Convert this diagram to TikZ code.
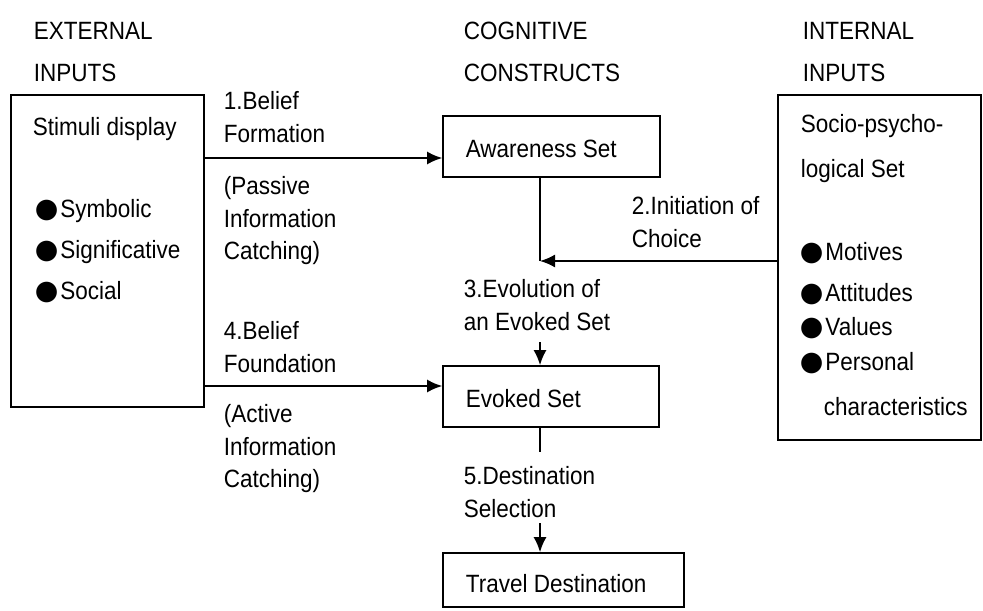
\documentclass[tikz,border=0pt]{standalone}
\usepackage{fontspec}
\setmainfont{Liberation Sans}[FakeStretch=0.9]
\newfontfamily\symfont{DejaVu Sans}
\usetikzlibrary{arrows.meta,fit}
\newcommand{\blt}{{\symfont\fontsize{13.5}{13.5}\selectfont ●}\hspace{1pt}}
\begin{document}
\begin{tikzpicture}[x=0.5pt, y=-0.5pt, line width=0.85pt,
		>={Latex[length=7.5pt,width=6.5pt]},
		box/.style={draw, inner sep=0pt},
		lbl/.style={inner sep=0pt, anchor=north west, align=left, font=\fontsize{12.5}{16.25}\selectfont},
		head/.style={lbl, font=\fontsize{12.5}{21}\selectfont}]
	\useasboundingbox (0,0) rectangle (983,610);
	% column headers
	\node[head] (hext) at (33,21) {EXTERNAL\\INPUTS};
	\node[head] (hcog) at (463,21) {COGNITIVE\\CONSTRUCTS};
	\node[head] (hint) at (802,21) {INTERNAL\\INPUTS};
	% boxes
	\node[box, fit={(11,95) (204,407)}] (stimuli) {};
	\node[box, fit={(443,116) (660,177)}] (aware) {};
	\node[box, fit={(443,366) (659,427)}] (evoked) {};
	\node[box, fit={(443,553) (684,607)}] (travel) {};
	\node[box, fit={(778,95) (981,440)}] (socio) {};
	% box contents
	\node[lbl] (stimtxt) at (32,117) {Stimuli display};
	\node[lbl] (stimlist) at (34,199) {\blt Symbolic\\[4.25pt]\blt Significative\\[4pt]\blt Social};
	\node[lbl] (awaretxt) at (465,139) {Awareness Set};
	\node[lbl] (evokedtxt) at (465,389) {Evoked Set};
	\node[lbl] (traveltxt) at (465,574) {Travel Destination};
	\node[lbl] (sociotxt) at (800,114) {Socio-psycho-\\[6.25pt]logical Set};
	\node[lbl] (sociolist) at (799,242) {\blt Motives\\[4.25pt]\blt Attitudes\\[0.75pt]\blt Values\\[1.25pt]\blt Personal\\[6.25pt]\hspace{12pt}characteristics};
	% connector labels
	\node[lbl] (l1) at (223,91) {1.Belief\\Formation};
	\node[lbl] (l1b) at (223,176) {(Passive\\Information\\Catching)};
	\node[lbl] (l2) at (631,196) {2.Initiation of\\Choice};
	\node[lbl] (l3) at (463,279) {3.Evolution of\\an Evoked Set};
	\node[lbl] (l4) at (223,321) {4.Belief\\Foundation};
	\node[lbl] (l4b) at (223,404) {(Active\\Information\\Catching)};
	\node[lbl] (l5) at (463,466) {5.Destination\\Selection};
	% connectors
	\coordinate (join) at (540,261);
	\coordinate (c3) at (540,342);
	\coordinate (c5a) at (540,452);
	\coordinate (c5b) at (540,523);
	\draw[->] (stimuli.east |- 0,158) -- (aware.west |- 0,158);
	\draw[->] (stimuli.east |- 0,386) -- (evoked.west |- 0,386);
	\draw (aware.south -| join) -- (join);
	\draw[->] (socio.west |- join) -- (join);
	\draw[->] (c3) -- (c3 |- evoked.north);
	\draw (evoked.south -| c5a) -- (c5a);
	\draw[->] (c5b) -- (c5b |- travel.north);
\end{tikzpicture}
\end{document}
